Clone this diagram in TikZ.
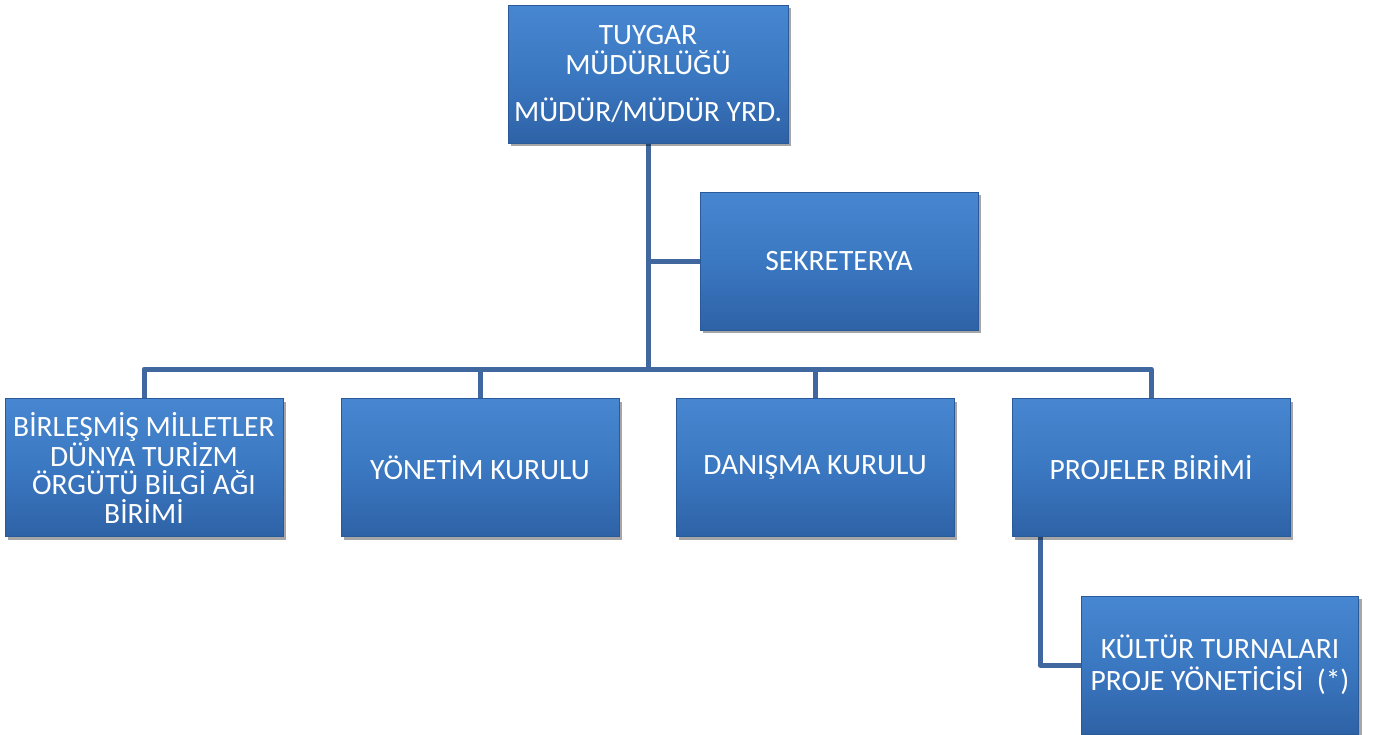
\documentclass[tikz,border=0pt]{standalone}
\usepackage{fontspec}
\setmainfont{Carlito}
\usetikzlibrary{shadows}
\definecolor{boxtop}{HTML}{4786D0}
\definecolor{boxmid}{HTML}{3B78C2}
\definecolor{boxbot}{HTML}{2E62A6}
\definecolor{boxedge}{HTML}{2A5A98}
\definecolor{linecol}{HTML}{41679F}
\begin{document}
\begin{tikzpicture}[x=1pt,y=-1pt,
  orgbox/.style={draw=boxedge, line width=1pt, top color=boxtop, bottom color=boxbot, middle color=boxmid,
    minimum width=278pt, minimum height=138pt, align=center, text=white,
    font=\fontsize{29.5}{28.5}\selectfont, inner sep=2pt,
    drop shadow={shadow xshift=3pt, shadow yshift=-3pt, opacity=0.35, fill=black}},
  conn/.style={draw=linecol, line width=5pt, line join=round}]
\useasboundingbox (0,0) rectangle (1379,734);
\draw[conn] (648,74) -- (648,369) coordinate (j);
\draw[conn] (648,261) -- (839,261);
\draw[conn] (144,467) -- (144,369) -- (1151,369) -- (1151,467);
\draw[conn] (480,369) -- (480,467);
\draw[conn] (815,369) -- (815,467);
\draw[conn] (1040,467) |- (1220,665);
\node[orgbox, minimum width=280pt, font=\fontsize{29.5}{30}\selectfont] (top) at (648,74) {TUYGAR\\MÜDÜRLÜĞÜ\\[17pt]MÜDÜR/MÜDÜR YRD.};
\node[orgbox] (sek) at (839,261) {SEKRETERYA};
\node[orgbox] (b1) at (144,467.5) {BİRLEŞMİŞ MİLLETLER\\DÜNYA TURİZM\\ÖRGÜTÜ BİLGİ AĞI\\BİRİMİ};
\node[orgbox] (b2) at (480,467.5) {YÖNETİM KURULU};
\node[orgbox] (b3) at (815,467.5) {DANIŞMA KURULU};
\node[orgbox] (b4) at (1151,467.5) {PROJELER BİRİMİ};
\node[orgbox, minimum width=277pt, font=\fontsize{29.5}{32}\selectfont] (k) at (1220,665) {KÜLTÜR TURNALARI\\PROJE YÖNETİCİSİ~~(*)};
\end{tikzpicture}
\end{document}
